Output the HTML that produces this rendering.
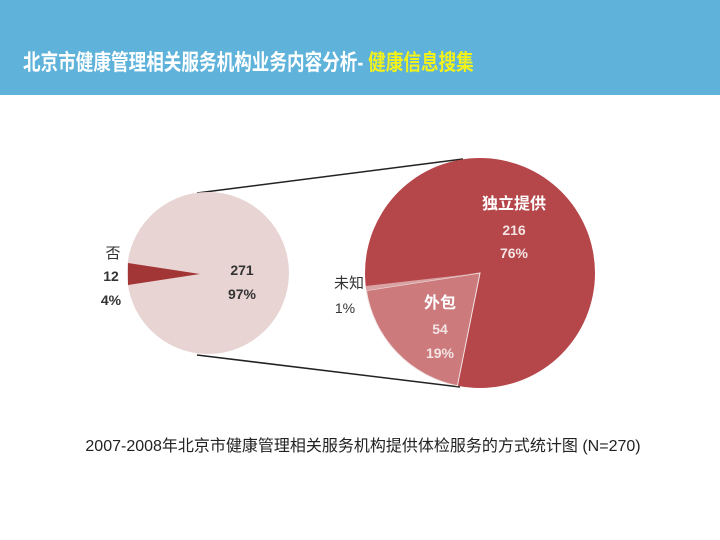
<!DOCTYPE html>
<html><head><meta charset="utf-8"><style>
body{margin:0;width:720px;height:540px;background:#fff;overflow:hidden;font-family:"Liberation Sans","Noto Sans CJK SC",sans-serif}
.hd{position:absolute;left:0;top:0;width:720px;height:95px;background:#5fb3da}
.t{position:absolute;left:23px;top:45px;font-size:22px;color:#fff;white-space:nowrap;transform:scaleX(0.8);transform-origin:0 0;font-weight:bold}
.t span{color:#f2f21a}
svg{position:absolute;left:0;top:0}
</style></head><body>
<div class="hd"><div class="t">北京市健康管理相关服务机构业务内容分析- <span>健康信息搜集</span></div></div>
<svg width="720" height="540" font-family="Liberation Sans, Noto Sans CJK SC, sans-serif" font-weight="bold">
<line x1="197" y1="193" x2="463" y2="159" stroke="#222" stroke-width="1.5"/>
<line x1="197" y1="355" x2="460" y2="387" stroke="#222" stroke-width="1.5"/>
<circle cx="208" cy="273" r="81" fill="#e9d4d4"/>
<polygon points="128,263 200,274 128,285" fill="#a23536"/>
<circle cx="480" cy="273" r="115" fill="#b5464a"/>
<path d="M480,273 L457.4,385.8 A115,115 0 0 1 366.3,290.5 Z" fill="#cc7a7c" stroke="#f3e5e5" stroke-width="1"/>
<path d="M480,273 L366.3,290.5 A115,115 0 0 1 365.6,286 Z" fill="#d9a3a4"/>
<g font-size="14" fill="#333" text-anchor="middle">
<text x="113" y="258" font-weight="normal" font-size="15">否</text>
<text x="111" y="281">12</text><text x="111" y="305">4%</text>
<text x="242" y="275">271</text><text x="242" y="299">97%</text>
<text x="349" y="288" font-weight="normal" font-size="15">未知</text>
<text x="345" y="313" font-weight="normal">1%</text>
</g>
<g font-size="14" fill="#f4e4e4" text-anchor="middle">
<text x="514" y="209" fill="#fff" font-size="16">独立提供</text>
<text x="514" y="235">216</text><text x="514" y="258">76%</text>
<text x="440" y="308" fill="#fff" font-size="16">外包</text>
<text x="440" y="334">54</text><text x="440" y="358">19%</text>
</g>
<text x="363" y="451" text-anchor="middle" font-size="16" font-weight="normal" fill="#222">2007-2008年北京市健康管理相关服务机构提供体检服务的方式统计图 (N=270)</text>
</svg>
</body></html>
